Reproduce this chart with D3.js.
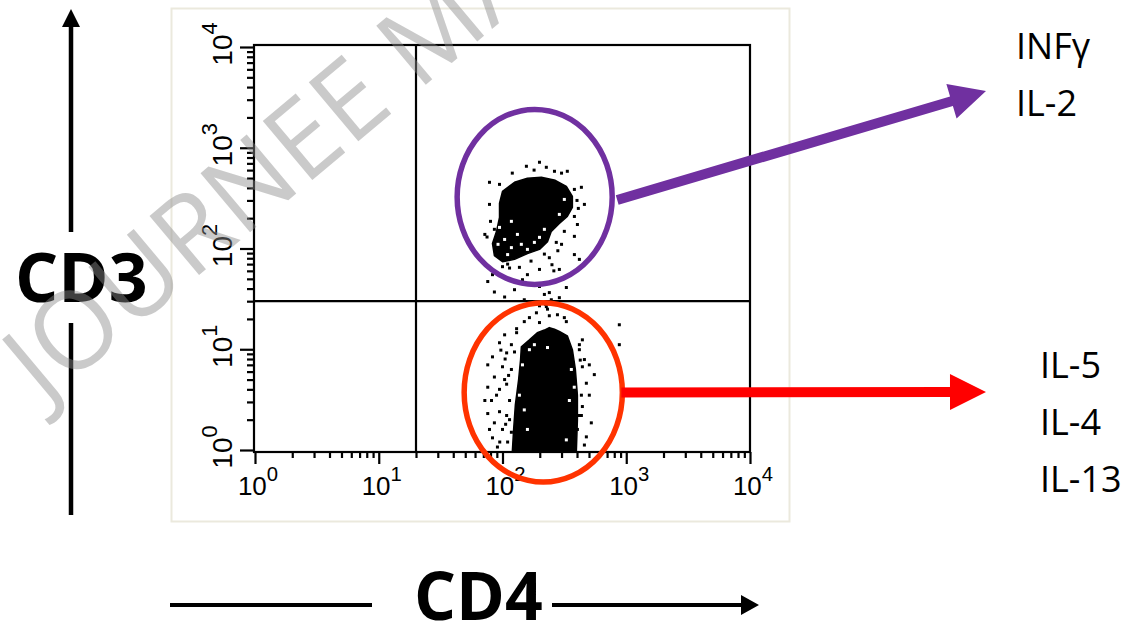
<!DOCTYPE html>
<html>
<head>
<meta charset="utf-8">
<script src="https://cdn.jsdelivr.net/npm/d3@7"></script>
<style>
  body { margin: 0; background: #fff; }
  svg { display: block; }
</style>
</head>
<body>
<svg id="chart" width="1140" height="623"></svg>
<script>
// axis decades (both axes are 4-decade log)
const decades = [1, 10, 100, 1000, 10000];
const decadeExp = ["0", "1", "2", "3", "4"];

// quadrant markers (CD4, CD3)
const quadCD4 = 20;
const quadCD3 = 30;

// dense populations, outline of the solid black area [CD4, CD3]
const upperCore = [
  [100, 369], [125, 454], [159, 497], [206, 509], [267, 475], [328, 414], [367, 329],
  [367, 256], [334, 208], [288, 177], [248, 148], [231, 117], [199, 98], [159, 89],
  [125, 78], [100, 74], [86, 85], [83, 112], [89.5, 148], [94.6, 203], [94.6, 281]
];
const lowerCore = [
  [120, 0.95], [123, 1.6], [127, 2.8], [135, 5.0], [140, 7.9], [142, 10.6], [165, 12.4],
  [191, 14.6], [218, 15.5], [239, 16.4], [263, 15.8], [288, 15.0], [334, 13.6], [367, 9.9],
  [388, 6.3], [403, 3.5], [403, 2.0], [395, 0.95]
];

// single events around the populations [CD4, CD3]
const upperDots = [
  [78.5, 454], [94.6, 433], [156, 655], [199, 718], [226, 640], [263, 584], [334, 584],
  [434, 405], [459, 274], [381, 208], [316, 148], [381, 132], [381, 87], [239, 81],
  [251, 69], [199, 62], [137, 65], [159, 55], [100, 66], [83, 55], [76, 47], [86, 37],
  [199, 42], [239, 36.5], [328, 41], [145, 49], [272, 115], [91, 93], [110, 70],
  [218, 88], [86, 155], [80, 186], [114, 64], [104, 33], [150, 31], [218, 35],
  [288, 32.5], [125, 39], [400, 300], [410, 250], [300, 110], [280, 95], [75, 130],
  [120, 560], [180, 600], [300, 560], [170, 75], [260, 60], [381, 386], [403, 173],
  [78.5, 274], [72, 138], [288, 62], [418, 78]
];
const lowerDots = [
  [188, 23], [226, 26.5], [278, 22], [328, 18.8], [199, 18.4], [130, 14.6], [118, 11.1],
  [94.6, 11.6], [83, 8.4], [108, 9.2], [100, 6.7], [86, 5.3], [76, 4.2], [94.6, 4.0],
  [81.5, 3.1], [76, 2.3], [94.6, 2.4], [86, 1.86], [100, 1.6], [83, 1.32], [110, 1.2],
  [91, 1.07], [114, 2.0], [114, 3.1], [442, 12.4], [442, 6.7], [476, 4.6], [442, 2.7],
  [522, 1.86], [476, 1.35], [503, 7.0], [403, 1.6], [418, 9.9], [434, 3.5], [72, 3.1],
  [104, 13.9], [150, 18.8], [263, 29], [199, 27], [879, 17.5], [879, 11.1],
  [231, 25], [239, 21.5], [222, 28], [248, 31], [105, 8], [112, 5.5], [108, 4.5],
  [97, 9.8], [118, 1.5], [106, 1.8], [415, 2.2], [425, 7.8], [95, 1.2], [130, 16],
  [418, 11.1], [459, 7.9], [503, 3.5], [434, 2.2], [459, 1.12], [104, 5.0], [89.5, 3.5],
  [78.5, 1.6], [108, 2.2], [118, 6.3], [125, 9.4], [76, 7.0], [316, 20.6], [165, 20.6],
  [552, 5.6]
];
// white gaps inside the dense areas
const coreHoles = [
  [104, 123], [118, 102], [142, 110], [181, 115], [132, 138], [159, 98], [199, 129],
  [110, 87], [218, 155], [94.6, 162], [288, 218], [118, 186], [316, 307], [92, 110],
  [165, 9.9], [231, 10.4], [181, 11.1], [137, 3.5], [150, 2.5], [360, 6.3], [347, 3.1],
  [159, 1.6], [328, 1.26], [145, 7.0], [380, 4.2]
];

// gates drawn around the two populations
const gateCD4Low = [43, 49];
const gateCD4High = [770, 930];
const gateCD3Low = [44, 0.48];
const gateCD3High = [2400, 29];
const gateColors = ["#7030a0", "#ff3300"];
const arrowColors = ["#7030a0", "#ff0000"];
const cytokines = [["INFγ", "IL-2"], ["IL-5", "IL-4", "IL-13"]];

const svg = d3.select("#chart");

// scales
const x = d3.scaleLog().domain([1, 10000]).range([255, 750]);
const y = d3.scaleLog().domain([1, 10000]).range([450, 47]);
const minorX = x.ticks().filter(d => !decades.includes(d));
const minorY = y.ticks().filter(d => !decades.includes(d));

const frameL = x(1) - 1, frameR = x(10000), frameT = y(10000) - 2, frameB = y(1) + 2;

// light panel behind the plot
svg.append("rect")
  .attr("x", 171.5).attr("y", 8.5)
  .attr("width", 618).attr("height", 513)
  .attr("fill", "#fff")
  .attr("stroke", "#ebe9dd")
  .attr("stroke-width", 2);

svg.append("defs").append("clipPath").attr("id", "plotClip")
  .append("rect")
  .attr("x", frameL).attr("y", frameT)
  .attr("width", frameR - frameL).attr("height", frameB - frameT);

const plot = svg.append("g").attr("clip-path", "url(#plotClip)");

// dense areas
const outline = d3.line()
  .x(d => x(d[0]))
  .y(d => y(d[1]))
  .curve(d3.curveLinearClosed);

plot.selectAll("path.core")
  .data([upperCore, lowerCore])
  .enter()
  .append("path")
  .attr("class", "core")
  .attr("d", outline)
  .attr("fill", "#000")
  .attr("stroke", "#000")
  .attr("stroke-width", 1.5)
  .attr("stroke-linejoin", "round");

plot.selectAll("rect.hole")
  .data(coreHoles)
  .enter()
  .append("rect")
  .attr("class", "hole")
  .attr("x", d => x(d[0]) - 1.5)
  .attr("y", d => y(d[1]) - 1.5)
  .attr("width", 3).attr("height", 3)
  .attr("fill", "#fff");

plot.selectAll("rect.dot")
  .data(upperDots.concat(lowerDots))
  .enter()
  .append("rect")
  .attr("class", "dot")
  .attr("x", d => x(d[0]) - 1.5)
  .attr("y", d => y(d[1]) - 1.5)
  .attr("width", 3).attr("height", 3)
  .attr("fill", "#000");

// quadrant lines
svg.append("line")
  .attr("x1", x(quadCD4)).attr("x2", x(quadCD4))
  .attr("y1", frameT).attr("y2", frameB)
  .attr("stroke", "#000").attr("stroke-width", 2.2);
svg.append("line")
  .attr("x1", frameL).attr("x2", frameR)
  .attr("y1", y(quadCD3)).attr("y2", y(quadCD3))
  .attr("stroke", "#000").attr("stroke-width", 2.2);

// frame
svg.append("rect")
  .attr("x", frameL).attr("y", frameT)
  .attr("width", frameR - frameL).attr("height", frameB - frameT)
  .attr("fill", "none")
  .attr("stroke", "#000")
  .attr("stroke-width", 2.2);

// ticks
function tickAxis(axis, values, size, transform) {
  const g = svg.append("g")
    .attr("transform", transform)
    .call(axis.tickValues(values).tickSize(size).tickFormat(""));
  g.select(".domain").remove();
  g.selectAll(".tick line").attr("stroke", "#000").attr("stroke-width", 2.2);
}
tickAxis(d3.axisLeft(y), minorY, 7, `translate(${frameL},0)`);
tickAxis(d3.axisLeft(y), decades, 14, `translate(${frameL},0)`);
tickAxis(d3.axisBottom(x), minorX, 6, `translate(0,${frameB})`);
tickAxis(d3.axisBottom(x), decades, 12, `translate(0,${frameB})`);

// 10^n tick labels
function powerLabel(g, i, size) {
  const t = g.append("text")
    .attr("text-anchor", "middle")
    .attr("font-family", "'Liberation Sans', Arial, sans-serif")
    .attr("font-size", size)
    .attr("fill", "#000");
  t.append("tspan").text("10");
  t.append("tspan").attr("dy", -size * 0.55).attr("font-size", size * 0.78).text(decadeExp[i]);
}
decades.forEach((d, i) => {
  powerLabel(svg.append("g").attr("transform", `translate(${x(d) + 3},495)`), i, 26);
  powerLabel(svg.append("g").attr("transform", `translate(232,${y(d) - 3}) rotate(-90)`), i, 28);
});

// gates
const gates = gateColors.map((c, i) => {
  const x0 = x(gateCD4Low[i]), x1 = x(gateCD4High[i]);
  const y0 = y(gateCD3High[i]), y1 = y(gateCD3Low[i]);
  return { cx: (x0 + x1) / 2, cy: (y0 + y1) / 2, rx: (x1 - x0) / 2, ry: (y1 - y0) / 2, color: c };
});
svg.selectAll("ellipse.gate")
  .data(gates)
  .enter()
  .append("ellipse")
  .attr("class", "gate")
  .attr("cx", d => d.cx).attr("cy", d => d.cy)
  .attr("rx", d => d.rx).attr("ry", d => d.ry)
  .attr("fill", "none")
  .attr("stroke", d => d.color)
  .attr("stroke-width", 5.5);

// block arrow as one polygon
function arrow(x1, y1, x2, y2, w, headLen, headHalf, color) {
  const len = Math.hypot(x2 - x1, y2 - y1);
  const ux = (x2 - x1) / len, uy = (y2 - y1) / len;
  const nx = -uy, ny = ux;
  const bx = x2 - ux * headLen, by = y2 - uy * headLen;
  const pts = [
    [x1 + nx * w / 2, y1 + ny * w / 2],
    [bx + nx * w / 2, by + ny * w / 2],
    [bx + nx * headHalf, by + ny * headHalf],
    [x2, y2],
    [bx - nx * headHalf, by - ny * headHalf],
    [bx - nx * w / 2, by - ny * w / 2],
    [x1 - nx * w / 2, y1 - ny * w / 2]
  ];
  svg.append("polygon")
    .attr("points", pts.map(p => p.join(",")).join(" "))
    .attr("fill", color);
}

// gate -> cytokine arrows
const labelX = [1016, 1040];
const labelBase = [59, 378];
const tipY = [91, 392];
arrow(gates[0].cx + gates[0].rx + 5, gates[0].cy + 3, 986, tipY[0], 10, 36, 18, arrowColors[0]);
arrow(gates[1].cx + gates[1].rx - 1, gates[1].cy, 986, tipY[1], 10, 36, 18, arrowColors[1]);

cytokines.forEach((list, i) => {
  svg.selectAll(null)
    .data(list)
    .enter()
    .append("text")
    .attr("x", labelX[i])
    .attr("y", (d, j) => labelBase[i] + j * 57)
    .attr("font-family", "'Open Sans', sans-serif")
    .attr("font-size", 36)
    .attr("fill", "#000")
    .text(d => d);
});

// CD3 / CD4 axis arrows
svg.append("line")
  .attr("x1", 71).attr("x2", 71).attr("y1", 515).attr("y2", 323)
  .attr("stroke", "#000").attr("stroke-width", 4.5);
arrow(71, 232, 71, 9, 4.5, 18, 9, "#000");
svg.append("text")
  .attr("x", 15).attr("y", 302)
  .attr("font-family", "'Open Sans', sans-serif")
  .attr("font-weight", 700)
  .attr("font-size", 68)
  .attr("fill", "#000")
  .text("CD3");

svg.append("line")
  .attr("x1", 170).attr("x2", 372).attr("y1", 605).attr("y2", 605)
  .attr("stroke", "#000").attr("stroke-width", 4);
arrow(552, 605, 759, 605, 4, 18, 10, "#000");
svg.append("text")
  .attr("x", 414).attr("y", 620)
  .attr("font-family", "'Open Sans', sans-serif")
  .attr("font-weight", 700)
  .attr("font-size", 66)
  .attr("fill", "#000")
  .text("CD4");

// watermark over everything
svg.append("text")
  .attr("transform", "translate(44,405) rotate(-40)")
  .attr("font-family", "'Open Sans', sans-serif")
  .attr("font-size", 108)
  .attr("fill", "#8c8c8c")
  .attr("opacity", 0.45)
  .text("JOURNEE MA");
</script>
</body>
</html>
